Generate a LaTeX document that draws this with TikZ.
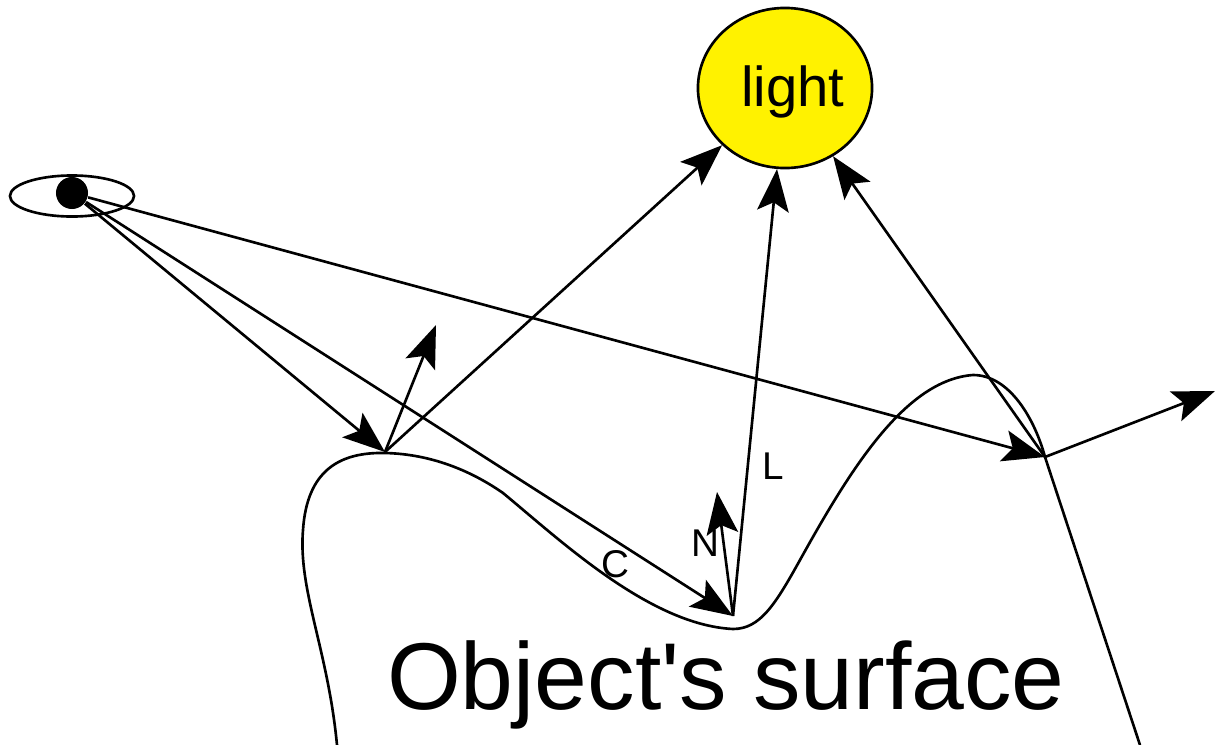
\documentclass[tikz,border=0pt]{standalone}
\usepackage{fontspec}
\setmainfont{Liberation Sans}
\usetikzlibrary{arrows.meta, shapes.geometric}

\begin{document}
\begin{tikzpicture}[
  x=0.01cm, y=-0.01cm,
  ray/.style={draw, line width=0.75pt, -{Stealth[length=12pt, width=9pt, inset=2.5pt]}},
  surf/.style={draw, line width=0.75pt},
  lbl/.style={font=\fontsize{11}{13}\selectfont, inner sep=0pt},
]
  \useasboundingbox (0,0) rectangle (1217,745);
  % light and eye
  \node[ellipse, draw, fill=yellow, line width=0.75pt, minimum width=1.74cm, minimum height=1.6cm, inner sep=0pt,
    label={[xshift=0.08cm, yshift=-0.04cm, font=\fontsize{16}{18}\selectfont]center:light}] (light) at (785,88) {};
  \node[ellipse, draw, line width=0.75pt, minimum width=1.24cm, minimum height=0.41cm, inner sep=0pt] (eye) at (72,196) {};
  \node[circle, fill, minimum size=0.32cm, inner sep=0pt] (pupil) at (72,193) {};
  % hit points
  \coordinate (P1) at (385,452);
  \coordinate (P2) at (733,616);
  \coordinate (P3) at (1045,457);
  \coordinate (N1) at (436,325);
  \coordinate (N2) at (717,492);
  \coordinate (R3) at (1215,391);
  % surface
  \draw[surf] (337,745) .. controls (328,650) and (298,590) .. (303,530)
    .. controls (307,470) and (340,452) .. (385,453)
    .. controls (430,454) and (470,470) .. (503,493)
    .. controls (560,540) and (650,625) .. (733,629)
    .. controls (760,629) and (775,605) .. (800,560)
    .. controls (850,470) and (905,380) .. (973,375)
    .. controls (1010,375) and (1035,420) .. (P3) -- (1140,745);
  % rays
  \draw[ray] (pupil) -- (P1);
  \draw[ray] (pupil) -- (P2);
  \draw[ray] (pupil) -- (P3);
  \draw[ray] (P1) -- (N1);
  \draw[ray] (P1) -- (light);
  \draw[ray] (P2) -- (N2);
  \draw[ray] (P2) -- (light);
  \draw[ray] (P3) -- (light);
  \draw[ray] (P3) -- (R3);
  % labels
  \node[lbl] (Ltxt) at (773,466) {L};
  \node[lbl] (Ntxt) at (705,543) {N};
  \node[lbl] (Ctxt) at (615,564) {C};
  \node[font=\fontsize{27}{31}\selectfont, anchor=base, inner sep=0pt] (surftxt) at (726,709) {Object\textquotesingle s surface};
\end{tikzpicture}
\end{document}
